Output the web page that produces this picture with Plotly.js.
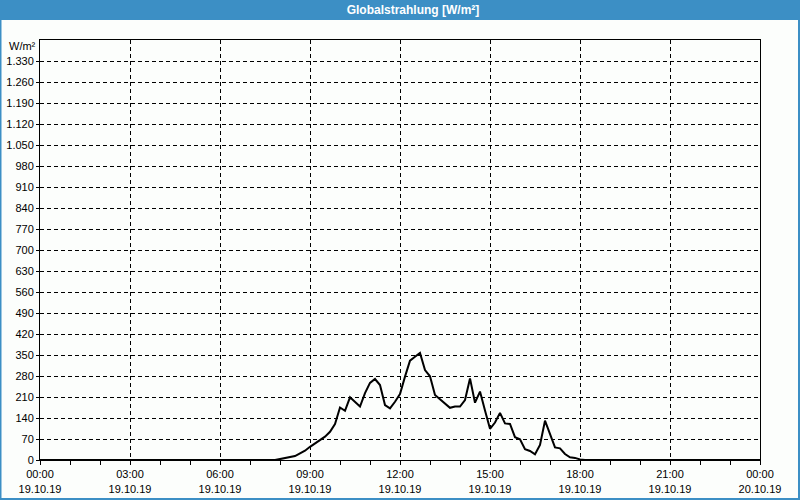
<!DOCTYPE html>
<html>
<head>
<meta charset="utf-8">
<script src="https://cdn.plot.ly/plotly-3.0.1.min.js"></script>
<style>
  html, body { margin: 0; padding: 0; background: #fcfefc; }
  #chart { width: 800px; height: 500px; }
</style>
</head>
<body>
<div id="chart"></div>
<script>
// ---- data ----
const times = [
  "2019-10-19 00:00", "2019-10-19 07:50",
  "2019-10-19 08:00", "2019-10-19 08:10", "2019-10-19 08:20", "2019-10-19 08:30", "2019-10-19 08:40", "2019-10-19 08:50",
  "2019-10-19 09:00", "2019-10-19 09:10", "2019-10-19 09:20", "2019-10-19 09:30", "2019-10-19 09:40", "2019-10-19 09:50",
  "2019-10-19 10:00", "2019-10-19 10:10", "2019-10-19 10:20", "2019-10-19 10:30", "2019-10-19 10:40", "2019-10-19 10:50",
  "2019-10-19 11:00", "2019-10-19 11:10", "2019-10-19 11:20", "2019-10-19 11:30", "2019-10-19 11:40", "2019-10-19 11:50",
  "2019-10-19 12:00", "2019-10-19 12:10", "2019-10-19 12:20", "2019-10-19 12:30", "2019-10-19 12:40", "2019-10-19 12:50",
  "2019-10-19 13:00", "2019-10-19 13:10", "2019-10-19 13:20", "2019-10-19 13:30", "2019-10-19 13:40", "2019-10-19 13:50",
  "2019-10-19 14:00", "2019-10-19 14:10", "2019-10-19 14:20", "2019-10-19 14:30", "2019-10-19 14:40", "2019-10-19 14:50",
  "2019-10-19 15:00", "2019-10-19 15:10", "2019-10-19 15:20", "2019-10-19 15:30", "2019-10-19 15:40", "2019-10-19 15:50",
  "2019-10-19 16:00", "2019-10-19 16:10", "2019-10-19 16:20", "2019-10-19 16:30", "2019-10-19 16:40", "2019-10-19 16:50",
  "2019-10-19 17:00", "2019-10-19 17:10", "2019-10-19 17:20", "2019-10-19 17:30", "2019-10-19 17:40", "2019-10-19 17:50",
  "2019-10-19 18:00", "2019-10-19 18:10", "2019-10-20 00:00"
];
const radiation = [
  0, 0,
  3, 7, 10, 13, 22, 31,
  44, 55, 67, 78, 94, 120,
  175, 164, 209, 195, 178, 223,
  257, 270, 250, 183, 172, 194,
  220, 278, 331, 344, 357, 300,
  279, 217, 202, 189, 174, 178,
  178, 200, 272, 191, 228, 165,
  104, 125, 157, 122, 120, 76,
  69, 36, 30, 19, 50, 131,
  89, 42, 39, 20, 9, 7,
  2, 0, 0
];
const xTickVals = [
  "2019-10-19 00:00", "2019-10-19 03:00", "2019-10-19 06:00", "2019-10-19 09:00", "2019-10-19 12:00",
  "2019-10-19 15:00", "2019-10-19 18:00", "2019-10-19 21:00", "2019-10-20 00:00"
];
const xTickText = [
  "00:00<br>19.10.19", "03:00<br>19.10.19", "06:00<br>19.10.19", "09:00<br>19.10.19", "12:00<br>19.10.19",
  "15:00<br>19.10.19", "18:00<br>19.10.19", "21:00<br>19.10.19", "00:00<br>20.10.19"
];
const yTickVals = [0, 70, 140, 210, 280, 350, 420, 490, 560, 630, 700, 770, 840, 910, 980, 1050, 1120, 1190, 1260, 1330];
const chartTitle = "Globalstrahlung [W/m²]";
const unitLabel = "W/m²";

// ---- styling ----
const blue = "#3c8fc5";
const bg = "#fcfefc";
const font = "Liberation Sans, Arial, sans-serif";
const L = 40, R = 40, T = 40, B = 40, W = 800, H = 500;
const pw = W - L - R, ph = H - T - B;
const px = v => (v - L) / pw;          // pixel -> paper x
const py = v => (H - B - v) / ph;      // pixel -> paper y

const trace = {
  x: times, y: radiation, type: "scatter", mode: "lines",
  line: { color: "#000000", width: 2 },
  hoverinfo: "x+y"
};

const layout = {
  width: W, height: H,
  margin: { l: L, r: R, t: T, b: B },
  paper_bgcolor: bg, plot_bgcolor: bg,
  showlegend: false,
  separators: ",.",
  font: { family: font, size: 11, color: "#000000" },
  title: {
    text: "<b>" + chartTitle + "</b>",
    font: { family: font, size: 12, color: "#ffffff" },
    xref: "paper", x: px(413), xanchor: "center",
    yref: "container", y: 1 - 10 / H, yanchor: "middle"
  },
  xaxis: {
    type: "date",
    range: ["2019-10-19 00:00", "2019-10-20 00:00"],
    tickmode: "array", tickvals: xTickVals, ticktext: xTickText,
    showgrid: true, gridcolor: "#000000", gridwidth: 1, griddash: "4px,3px",
    showline: true, linecolor: "#000000", linewidth: 1, mirror: true,
    ticks: "outside", ticklen: 4, tickcolor: "#000000",
    minor: { dtick: 3600000, tick0: "2019-10-19 00:00", ticks: "outside", ticklen: 4, tickcolor: "#000000", showgrid: false },
    tickfont: { family: font, size: 11, color: "#000000" },
    zeroline: false, fixedrange: true
  },
  yaxis: {
    range: [0, 1400],
    tickmode: "array", tickvals: yTickVals, tickformat: ",d",
    showgrid: true, gridcolor: "#000000", gridwidth: 1, griddash: "4px,3px",
    showline: true, linecolor: "#000000", linewidth: 1, mirror: true,
    ticks: "outside", ticklen: 3, tickcolor: "#000000",
    tickfont: { family: font, size: 11, color: "#000000" },
    zeroline: false, fixedrange: true
  },
  annotations: [{
    text: unitLabel, xref: "paper", yref: "paper",
    x: px(38), y: py(46), xanchor: "right", yanchor: "middle",
    showarrow: false, font: { family: font, size: 11, color: "#000000" }
  }],
  shapes: [
    { type: "rect", xref: "paper", yref: "paper", layer: "below",
      x0: px(0), x1: px(W), y0: py(20), y1: py(0),
      fillcolor: blue, line: { width: 0 } },
    { type: "rect", xref: "paper", yref: "paper", layer: "below",
      x0: px(0.5), x1: px(W - 1), y0: py(H - 1), y1: py(0.5),
      fillcolor: "rgba(0,0,0,0)", line: { color: blue, width: 2 } }
  ]
};

Plotly.newPlot("chart", [trace], layout, { displayModeBar: false, staticPlot: true });
</script>
</body>
</html>
